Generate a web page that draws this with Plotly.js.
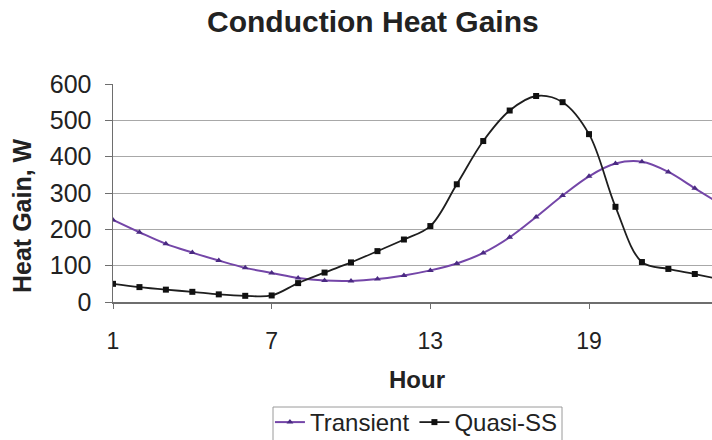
<!DOCTYPE html>
<html>
<head>
<meta charset="utf-8">
<script src="https://cdn.plot.ly/plotly-3.0.1.min.js"></script>
<style>
  html, body { margin: 0; padding: 0; background: #ffffff; }
  #chart { width: 712px; height: 440px; }
</style>
</head>
<body>
<div id="chart"></div>
<script>
const hours = [1,2,3,4,5,6,7,8,9,10,11,12,13,14,15,16,17,18,19,20,21,22,23,24];
const transient = [226,192,160,136,114,94,80,66,59,58,63,73,87,106,135,178,234,293,346,381,386,358,313,268];
const quasiSS = [50,41,34,28,21,17,18,52,81,109,140,172,209,324,443,527,567,550,462,262,110,91,77,62];
const xTicks = [1,7,13,19];
const yTicks = [0,100,200,300,400,500,600];

const FONT = 'Arial, "Liberation Sans", Helvetica, sans-serif';

const traces = [
  {
    x: hours, y: transient, name: 'Transient', type: 'scatter', mode: 'lines+markers',
    line: {color: '#7446a8', width: 2, shape: 'spline', smoothing: 1},
    marker: {symbol: 'triangle-up', size: 6, color: '#4a2a82'},
    cliponaxis: true
  },
  {
    x: hours, y: quasiSS, name: 'Quasi-SS', type: 'scatter', mode: 'lines+markers',
    line: {color: '#1e1e1e', width: 1.8, shape: 'spline', smoothing: 1},
    marker: {symbol: 'square', size: 6, color: '#111111'},
    cliponaxis: true
  }
];

const layout = {
  width: 712, height: 440,
  margin: {l: 113, r: 0, t: 84, b: 138, pad: 0, autoexpand: false},
  paper_bgcolor: '#ffffff', plot_bgcolor: '#ffffff',
  font: {family: FONT, color: '#222222'},
  showlegend: true,
  legend: {
    orientation: 'h', x: 0.262, xanchor: 'left',
    yref: 'container', y: 1 - 400 / 440, yanchor: 'top',
    borderwidth: 0, bgcolor: 'rgba(0,0,0,0)',
    font: {size: 24, family: FONT, color: '#222222'},
    itemwidth: 30, tracegroupgap: 0
  },
  shapes: [
    {type: 'rect', xref: 'paper', yref: 'paper',
     x0: (273 - 113) / 599, x1: (562 - 113) / 599,
     y0: (302 - 407) / 218, y1: (302 - 446) / 218,
     line: {color: '#9a9a9a', width: 1}, fillcolor: 'rgba(0,0,0,0)', layer: 'below'}
  ],
  xaxis: {
    range: [1, 23.65], tickmode: 'array', tickvals: xTicks, ticktext: xTicks.map(String),
    showgrid: false, zeroline: false, showline: true, linecolor: '#6e6e6e', linewidth: 1.5,
    ticks: 'outside', ticklen: 5, tickcolor: '#6e6e6e', tickwidth: 1,
    tickfont: {size: 23, family: FONT, color: '#222222'}, ticklabelstandoff: 13
  },
  yaxis: {
    range: [0, 600], tickmode: 'array', tickvals: yTicks, ticktext: yTicks.map(String),
    showgrid: true, gridcolor: '#a8a8a8', gridwidth: 1, zeroline: false,
    showline: true, linecolor: '#6e6e6e', linewidth: 1.5,
    ticks: 'outside', ticklen: 7, tickcolor: '#6e6e6e', tickwidth: 1,
    tickfont: {size: 25, family: FONT, color: '#222222'}, ticklabelstandoff: 8
  },
  annotations: [
    {text: '<b>Conduction Heat Gains</b>', xref: 'paper', yref: 'paper',
     x: (372.5 - 113) / 599, y: (302 - 22) / 218, xanchor: 'center', yanchor: 'middle',
     showarrow: false, font: {size: 30, family: FONT, color: '#222222'}},
    {text: '<b>Hour</b>', xref: 'paper', yref: 'paper',
     x: (416.5 - 113) / 599, y: (302 - 379) / 218, xanchor: 'center', yanchor: 'middle',
     showarrow: false, font: {size: 24, family: FONT, color: '#222222'}},
    {text: '<b>Heat Gain, W</b>', xref: 'paper', yref: 'paper', textangle: -90,
     x: (22 - 113) / 599, y: (302 - 216) / 218, xanchor: 'center', yanchor: 'middle',
     showarrow: false, font: {size: 25, family: FONT, color: '#222222'}}
  ]
};

Plotly.newPlot('chart', traces, layout, {displayModeBar: false, staticPlot: true});
</script>
</body>
</html>
